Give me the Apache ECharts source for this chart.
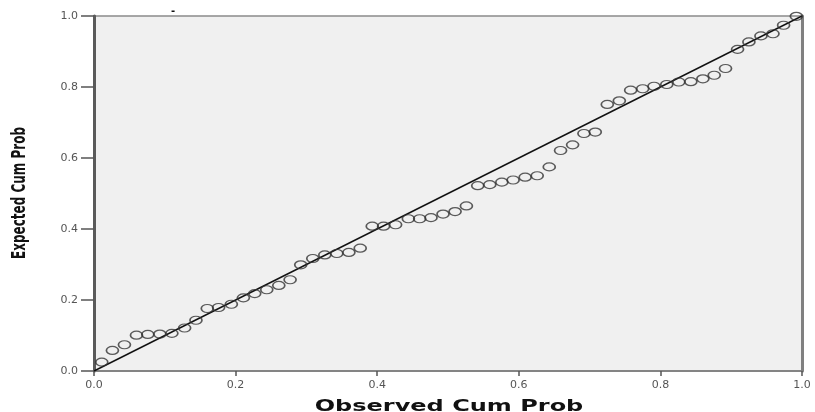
<!DOCTYPE html>
<html>
<head>
<meta charset="utf-8">
<script src="https://cdn.jsdelivr.net/npm/echarts@6/dist/echarts.min.js"></script>
<style>html,body{margin:0;padding:0;background:#fff;}#c{width:815px;height:412px;}</style>
</head>
<body>
<div id="c"></div>
<script>
var observed = [0.011,0.026,0.043,0.060,0.076,0.093,0.110,0.128,0.144,0.160,
  0.176,0.194,0.211,0.227,0.244,0.261,0.277,0.292,0.309,0.326,
  0.343,0.360,0.376,0.393,0.409,0.426,0.444,0.460,0.476,0.493,
  0.510,0.526,0.542,0.559,0.576,0.592,0.609,0.626,0.643,0.659,
  0.676,0.692,0.708,0.725,0.742,0.758,0.775,0.791,0.809,0.826,
  0.843,0.860,0.876,0.892,0.909,0.925,0.942,0.959,0.974,0.992];
var expected = [0.025,0.058,0.074,0.101,0.103,0.104,0.106,0.121,0.143,0.176,
  0.179,0.188,0.206,0.218,0.229,0.241,0.257,0.299,0.317,0.327,
  0.331,0.334,0.346,0.408,0.408,0.412,0.429,0.429,0.432,0.442,
  0.449,0.465,0.522,0.525,0.532,0.538,0.546,0.550,0.575,0.621,
  0.637,0.669,0.673,0.751,0.761,0.791,0.795,0.802,0.807,0.814,
  0.815,0.823,0.833,0.852,0.906,0.927,0.944,0.950,0.974,0.999];
var refLine = [[0, 0], [1, 1]];
var tickLabels = ['0.0', '0.2', '0.4', '0.6', '0.8', '1.0'];
var xTitle = 'Observed Cum Prob';
var yTitle = 'Expected Cum Prob';

var points = observed.map(function (v, i) { return [v, expected[i]]; });
function fmt(v) { return tickLabels[Math.round(v * 5)]; }

var chart = echarts.init(document.getElementById('c'), null, { renderer: 'canvas' });
chart.setOption({
  animation: false,
  backgroundColor: '#ffffff',
  grid: {
    left: 94, right: 13, top: 16, bottom: 41,
    show: true, backgroundColor: '#f0f0f0', borderColor: '#8a8a8a', borderWidth: 1.5
  },
  xAxis: {
    type: 'value', min: 0, max: 1, interval: 0.2,
    axisLine: { show: true, onZero: false, lineStyle: { color: '#7a7a7a', width: 1.5 } },
    axisTick: { show: true, inside: false, length: 5, lineStyle: { color: '#555', width: 1.5 } },
    axisLabel: { margin: 9, color: '#555', fontFamily: 'DejaVu Sans', fontSize: 11, formatter: fmt },
    splitLine: { show: false }
  },
  yAxis: [{
    type: 'value', min: 0, max: 1, interval: 0.2,
    axisLine: { show: true, onZero: false, lineStyle: { color: '#5a5a5a', width: 3 } },
    axisTick: { show: true, inside: false, length: 13, lineStyle: { color: '#555', width: 1.5 } },
    axisLabel: { margin: 16, color: '#555', fontFamily: 'DejaVu Sans', fontSize: 11, formatter: fmt },
    splitLine: { show: false }
  }, {
    type: 'value', min: 0, max: 1, interval: 0.2, position: 'right',
    axisLine: { show: true, onZero: false, lineStyle: { color: '#808080', width: 3 } },
    axisTick: { show: false }, axisLabel: { show: false }, splitLine: { show: false }
  }],
  series: [{
    type: 'line', data: refLine, symbol: 'none', silent: true, z: 2,
    lineStyle: { color: '#111', width: 1.4 }
  }, {
    type: 'scatter', data: points, symbol: 'circle', symbolSize: [12, 8], z: 3,
    itemStyle: { color: 'rgba(0,0,0,0)', borderColor: '#333', borderWidth: 1.4 }
  }],
  graphic: [{
    type: 'text', x: 449, y: 415, scaleX: 1.6,
    style: { text: xTitle, font: 'bold 15px "DejaVu Sans"', fill: '#111', align: 'center', verticalAlign: 'bottom' }
  }, {
    type: 'text', x: 20, y: 193, rotation: Math.PI / 2, scaleY: 1.6,
    style: { text: yTitle, font: 'bold 12px "DejaVu Sans"', fill: '#111', align: 'center', verticalAlign: 'middle' }
  }, {
    type: 'text', x: 173, y: 11,
    style: { text: '-', font: 'bold 10px "DejaVu Sans"', fill: '#111', align: 'center', verticalAlign: 'middle' }
  }]
});
</script>
</body>
</html>
